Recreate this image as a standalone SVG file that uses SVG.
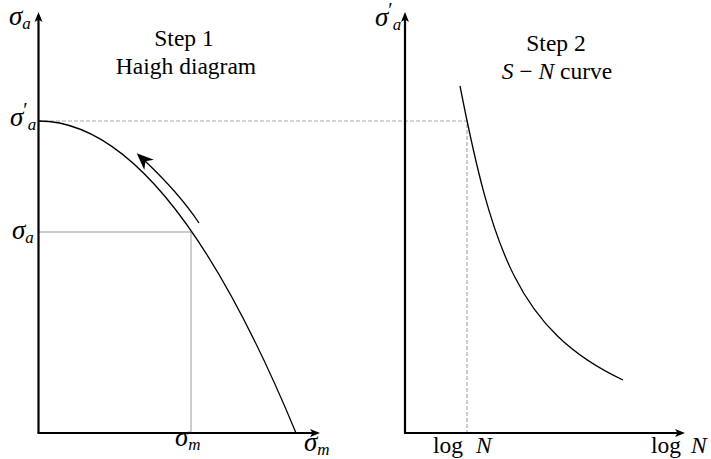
<svg xmlns="http://www.w3.org/2000/svg" width="711" height="459" viewBox="0 0 711 459">
<style>
  text { font-family: "Liberation Serif", "DejaVu Serif", serif; fill: #000; }
  .lbl { font-size: 23.5px; }
  .m { font-size: 27px; font-style: italic; }
  .sub { font-size: 17px; font-style: italic; }
  .pr { font-size: 20px; font-style: normal; }
  .axis { stroke: #000; stroke-width: 2.2; fill: none; }
  .curve { stroke: #000; stroke-width: 1.3; fill: none; }
  .guide { stroke: #999; stroke-width: 1; fill: none; }
  .dash { stroke: #aaa; stroke-width: 1.2; stroke-dasharray: 4 2; fill: none; }
</style>
<defs>
  <marker id="ax" viewBox="0 -5 10 10" markerWidth="10" markerHeight="10" markerUnits="userSpaceOnUse" refX="5" refY="0" orient="auto">
    <path d="M10,0 L0,-4 L2.5,0 L0,4 Z" fill="#000"/>
  </marker>
  <marker id="big" viewBox="0 -7 17 14" markerWidth="17" markerHeight="14" markerUnits="userSpaceOnUse" refX="7" refY="0" orient="auto">
    <path d="M17,0 L0,-7 L5,0 L0,7 Z" fill="#000"/>
  </marker>
</defs>

<g id="guides">
  <path class="guide" d="M38,232 H191 V433"/>
  <path class="dash" d="M38,121 H467 V433"/>
</g>

<g id="haigh-curve">
  <path class="curve" d="M38.5,121 Q167,121 296,433"/>
</g>

<g id="sn-curve">
  <path class="curve" d="M460,86 C492,249 518,331 623,380"/>
</g>

<g id="connectors">
  <path class="curve" stroke-width="2.3" d="M199,223 Q179,193 144,160" marker-end="url(#big)"/>
  <path class="axis" d="M38.5,433 V17" marker-end="url(#ax)"/>
  <path class="axis" d="M37.5,433 H315" marker-end="url(#ax)"/>
  <path class="axis" d="M405,433 V17" marker-end="url(#ax)"/>
  <path class="axis" d="M404,433 H680" marker-end="url(#ax)"/>
</g>

<g id="step1">
  <text class="lbl" x="184" y="46" text-anchor="middle">Step 1</text>
  <text class="lbl" x="186" y="74" text-anchor="middle">Haigh diagram</text>
</g>

<g id="step2">
  <text class="lbl" x="556" y="51" text-anchor="middle">Step 2</text>
  <text class="lbl" x="557" y="79" text-anchor="middle"><tspan font-style="italic">S</tspan> − <tspan font-style="italic">N</tspan> curve</text>
</g>

<g id="labels">
  <text class="m" x="9" y="25">σ<tspan class="sub" dy="4">a</tspan></text>
  <text class="m" x="10" y="126">σ<tspan class="pr" dy="-9">′</tspan><tspan class="sub" dy="13">a</tspan></text>
  <text class="m" x="12" y="239">σ<tspan class="sub" dy="4">a</tspan></text>
  <text class="m" x="175" y="446">σ<tspan class="sub" dy="4">m</tspan></text>
  <text class="m" x="304" y="451">σ<tspan class="sub" dy="4">m</tspan></text>
  <text class="m" x="375" y="26">σ<tspan class="pr" dy="-9">′</tspan><tspan class="sub" dy="13">a</tspan></text>
  <text class="lbl" x="433" y="453">log<tspan font-style="italic" x="476">N</tspan></text>
  <text class="lbl" x="651" y="453">log<tspan font-style="italic" x="691">N</tspan></text>
</g>
</svg>
